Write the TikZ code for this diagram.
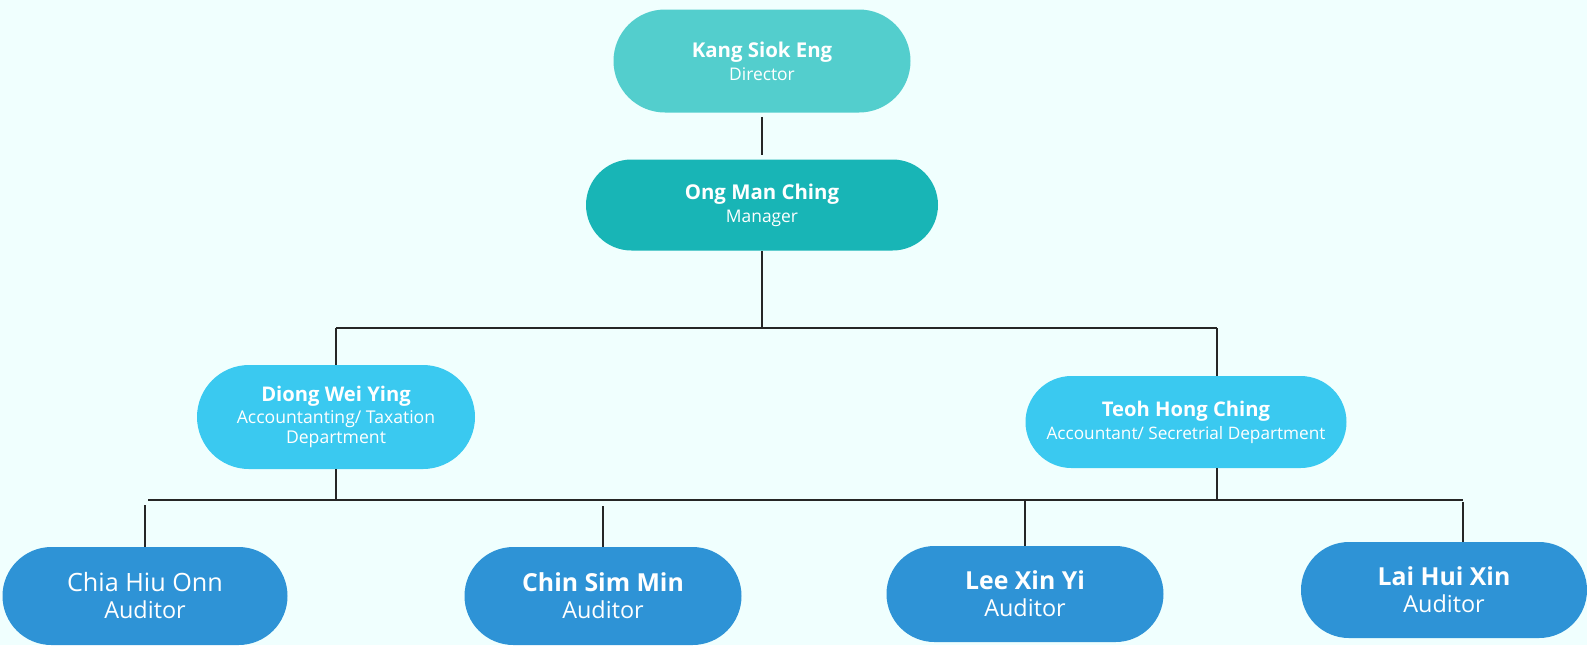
\documentclass[tikz,border=0pt]{standalone}
\usepackage{fontspec}
\setmainfont{Open Sans}
\usetikzlibrary{shapes.misc}
\definecolor{pagebg}{HTML}{F0FFFE}
\definecolor{dircol}{HTML}{53CECD}
\definecolor{mgrcol}{HTML}{18B5B6}
\definecolor{deptcol}{HTML}{3AC9F0}
\definecolor{audcol}{HTML}{2E93D6}
\newcommand\orgname[1]{{\fontsize{10.2}{11.6}\selectfont\bfseries #1}}
\newcommand\audname[1]{{\fontsize{12.4}{13.5}\selectfont\bfseries #1}}
\tikzset{
	orgbox/.style   = {shape=rounded rectangle, text=white,
		align=center, inner sep=0pt,
		font=\fontsize{8.7}{11.6}\selectfont},
	director/.style = {orgbox, fill=dircol,
		minimum width=148.5pt, minimum height=51.5pt},
	manager/.style  = {orgbox, fill=mgrcol,
		minimum width=176pt, minimum height=45.5pt},
	dept/.style     = {orgbox, fill=deptcol,
		minimum height=46pt},
	auditor/.style  = {orgbox, fill=audcol,
		font=\fontsize{11.7}{13.5}\selectfont,
		minimum width=138.5pt, minimum height=48pt},
	link/.style     = {draw=black!85, line width=0.9pt}
}

\begin{document}
\begin{tikzpicture}[x=0.5pt, y=-0.5pt]
	\useasboundingbox[fill=pagebg] (0,0) rectangle (1587,645);

	% top of the chart
	\node[director] (kang) at (762,61)  {\orgname{Kang Siok Eng}\\ Director};
	\node[manager]  (ong)  at (762,205) {\orgname{Ong Man Ching}\\ Manager};

	% departments
	\node[dept, minimum width=139pt, minimum height=52pt, font=\fontsize{8.8}{10}\selectfont]
		(diong) at (336,417)
		{{\fontsize{10.1}{11.6}\selectfont\bfseries Diong Wei Ying}\\[1pt] Accountanting/ Taxation\\ Department};
	\node[dept, minimum width=160.5pt, font=\fontsize{8.6}{11.6}\selectfont]
		(teoh) at (1186,422)
		{{\fontsize{10.1}{11.6}\selectfont\bfseries Teoh Hong Ching}\\ Accountant/ Secretrial Department};

	% auditors
	\node[auditor, minimum width=142.5pt, minimum height=49pt] (chia) at (145,596)
		{{\fontsize{12.6}{13.5}\selectfont Chia Hiu Onn}\\ Auditor};
	\node[auditor, minimum height=49pt] (chin) at (603,596) {\audname{Chin Sim Min}\\ Auditor};
	\node[auditor] (lee) at (1025,594) {\audname{Lee Xin Yi}\\ Auditor};
	\node[auditor, minimum width=143pt] (lai) at (1444,590) {\audname{Lai Hui Xin}\\ Auditor};

	% junctions
	\coordinate (upL)  at (336,328);
	\coordinate (upR)  at (1217,328);
	\coordinate (lowL) at (148,500);
	\coordinate (lowR) at (1463,500);

	% connectors
	\draw[link, shorten <=2pt, shorten >=2pt] (kang.south) -- (ong.north);
	\draw[link] (ong.south) -- (ong.south |- upL);
	\draw[link] (upL) -- (upR);
	\draw[link] (upL) -- (diong.north);
	\draw[link] (upR) -- (teoh.north -| upR);
	\draw[link] (diong.south) -- (diong.south |- lowL);
	\draw[link] (teoh.south -| upR) -- (upR |- lowL);
	\draw[link] (lowL) -- (lowR);
	\draw[link] (chia.north) -- ++(0,-42);
	\draw[link] (chin.north) -- ++(0,-41);
	\draw[link] (lee.north) -- (lee.north |- lowL);
	\draw[link] (lai.north -| lowR) -- ++(0,-40);
\end{tikzpicture}
\end{document}
